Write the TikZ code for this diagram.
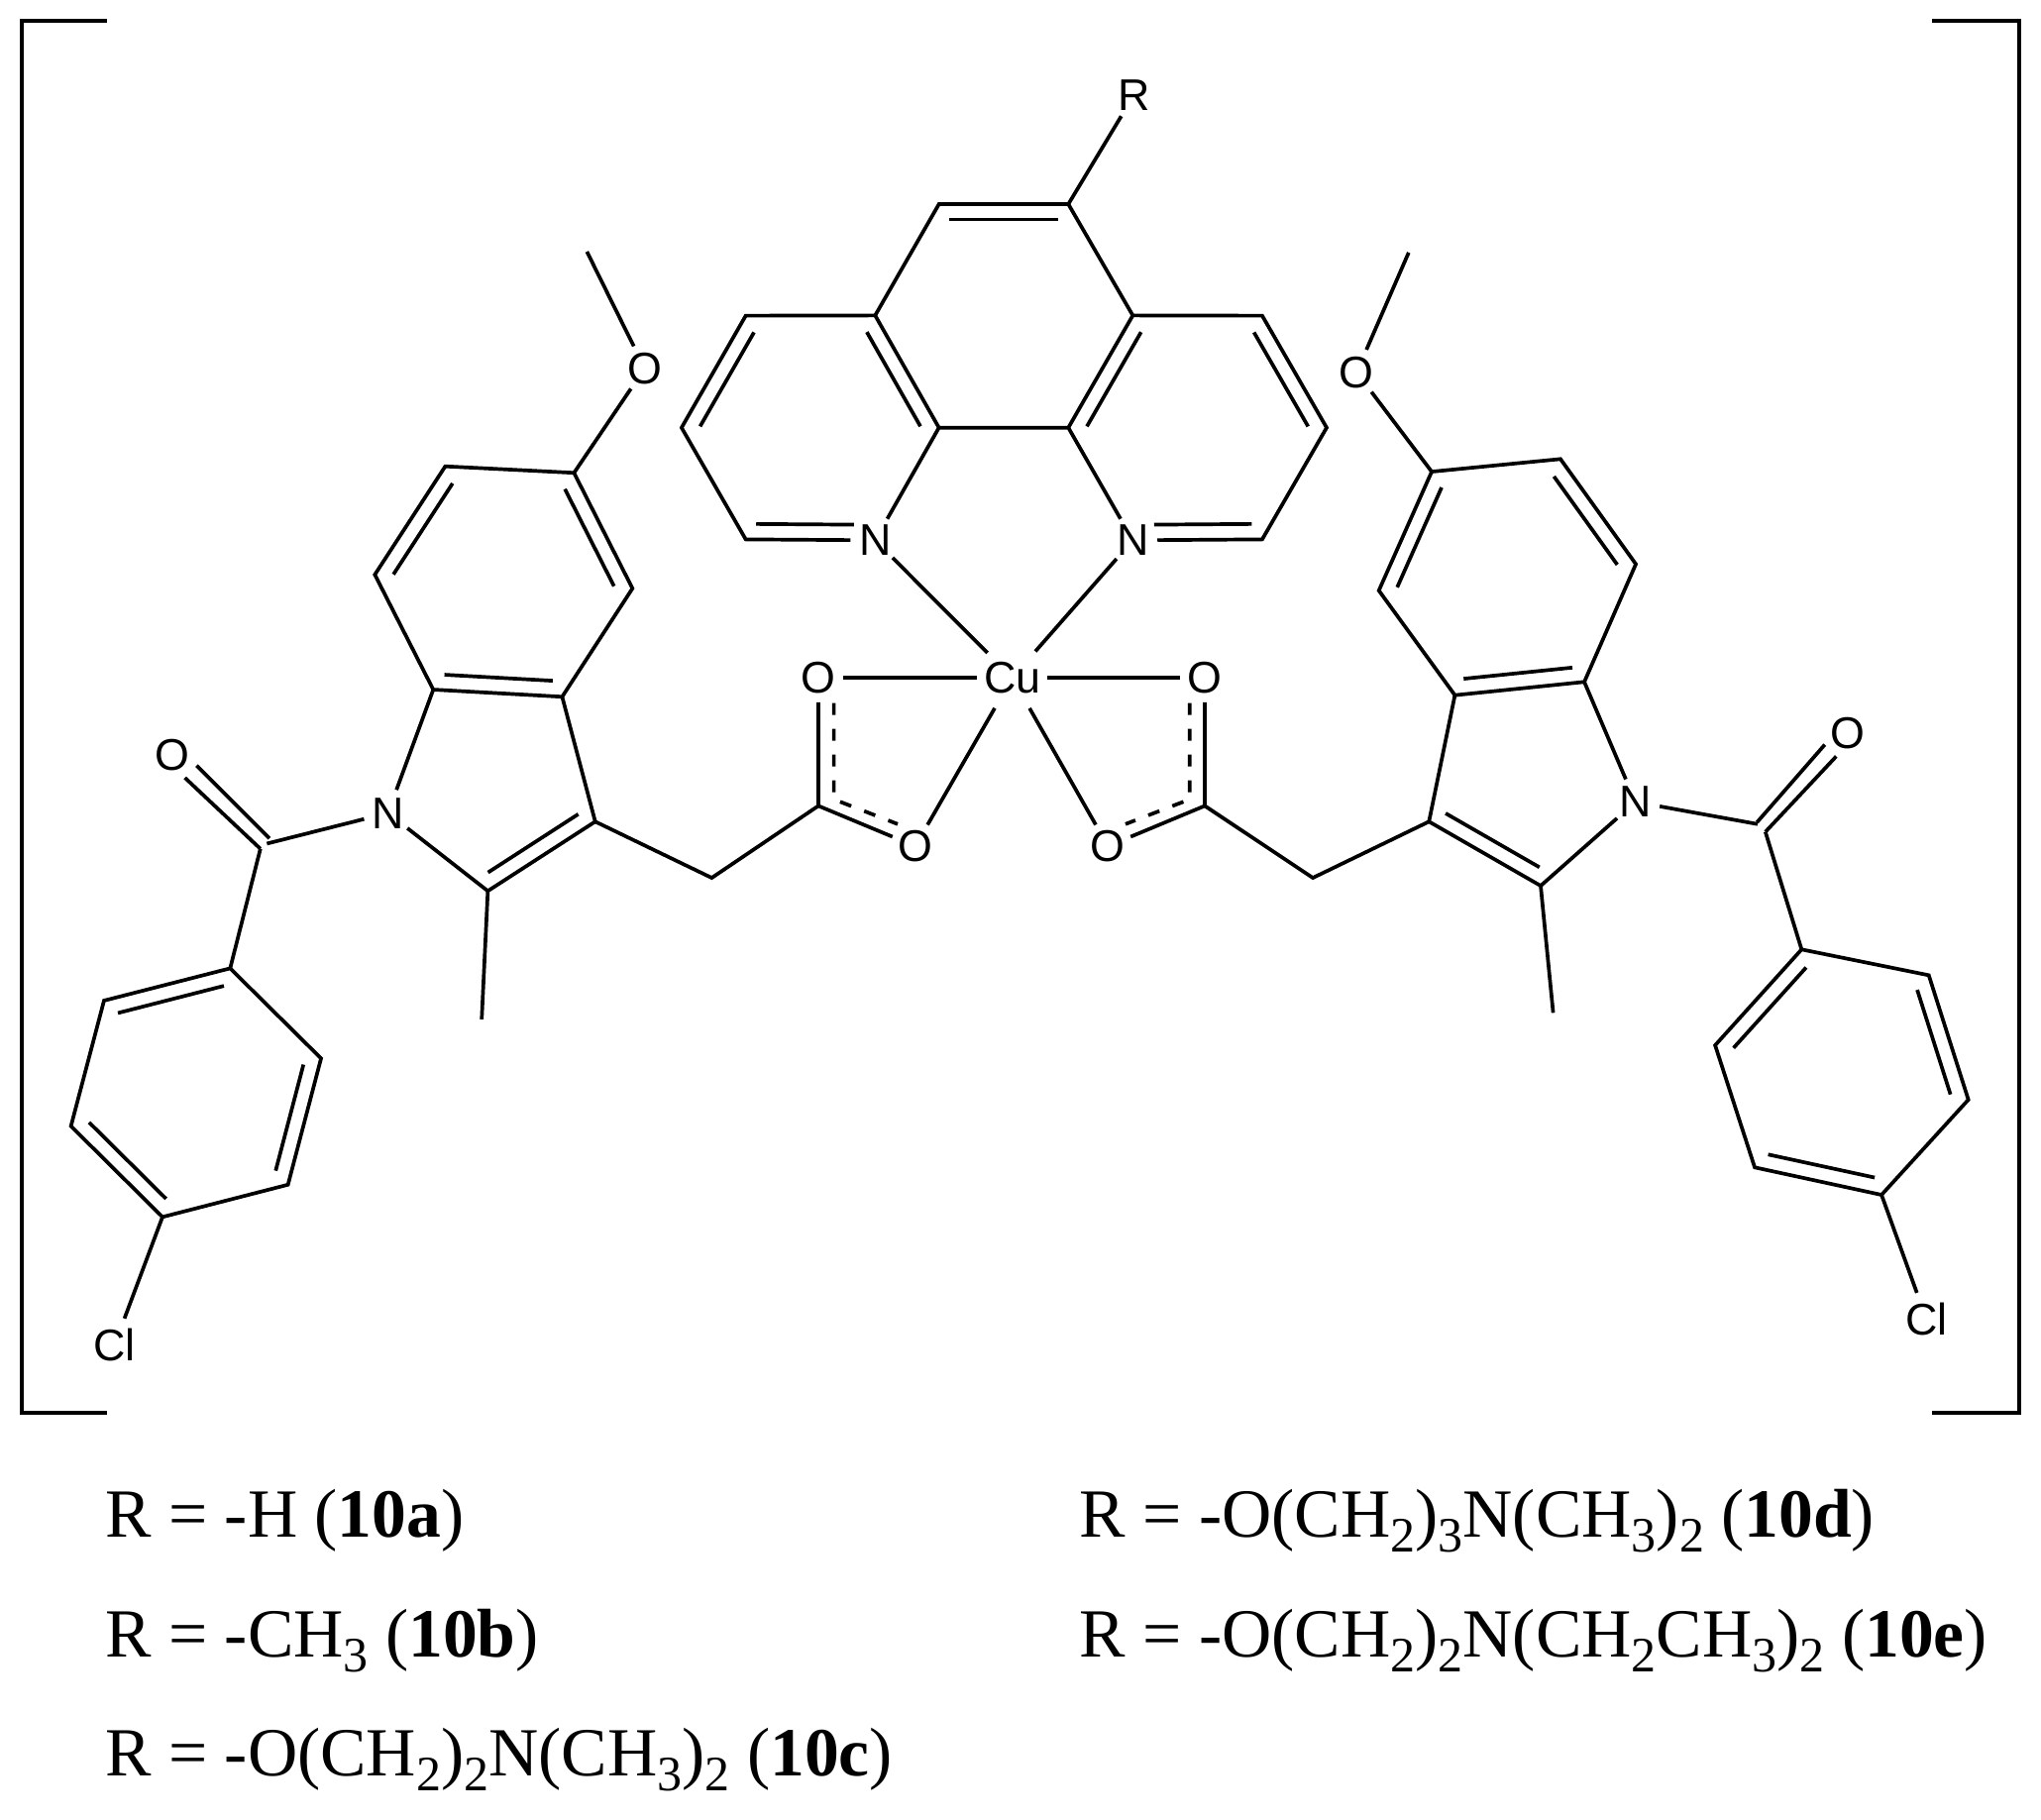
\documentclass[tikz,border=0pt]{standalone}
\usepackage{fontspec}
\usetikzlibrary{calc}
\setmainfont{Liberation Serif}
\newfontfamily\atomfont{Liberation Sans}
\newcommand{\ssb}[1]{\raisebox{-7.5pt}{\fontsize{25}{26}\selectfont #1}}
\newcommand{\dblx}[4]{\draw[bond] ($(#1)!#3!(#2)!7.8pt!90:(#2)$) -- ($(#2)!#4!(#1)!-7.8pt!90:(#1)$);}
\newcommand{\dbl}[2]{\dblx{#1}{#2}{0.08}{0.08}}
\tikzset{
  bond/.style={line width=1.85pt,black,line join=miter},
  dashbond/.style={line width=1.85pt,black,dash pattern=on 6pt off 7pt},
  atom/.style={font=\atomfont\fontsize{22.4}{24}\selectfont,circle,inner sep=0pt,minimum size=24.5pt},
  clatom/.style={atom,minimum size=28pt},
  cuatom/.style={atom,minimum size=35pt},
  legend/.style={font=\fontsize{34.8}{40}\selectfont,anchor=base west,inner sep=0pt}
}
\begin{document}
\begin{tikzpicture}[x=0.657pt,y=-0.657pt]
\useasboundingbox (0,0) rectangle (1567.7,1397.3);
% brackets
\coordinate (bl1) at (82,16); \coordinate (bl2) at (17,16); \coordinate (bl3) at (17,1085); \coordinate (bl4) at (82,1085);
\coordinate (br1) at (1484,16); \coordinate (br2) at (1551,16); \coordinate (br3) at (1551,1085); \coordinate (br4) at (1484,1085);
\draw[bond] (bl1)--(bl2)--(bl3)--(bl4);
\draw[bond] (br1)--(br2)--(br3)--(br4);
% metal and phenanthroline
\node[cuatom] (Cu) at (777.5,520.6) {Cu};
\node[atom] (R) at (871,73) {R};
\node[atom] (Na) at (672.2,415) {N};
\node[atom] (Nb) at (870.1,415) {N};
\foreach \n/\x/\y in {pa/672.2/242.3,pb/572.8/242.5,pc/523.5/328.5,pd/572.8/414.3,pe/721.2/328.5,
  qa/870.1/242.3,qb/969.5/242.5,qc/1019/328.5,qd/969.5/414.3,qe/820.6/328.5,m1/721.2/156.8,m2/820.6/156.8}
  \coordinate (\n) at (\x,\y);
\draw[bond] (pe)--(pa)--(pb)--(pc)--(pd)--(Na);
\draw[bond] (Na)--(pe)--(qe)--(Nb);
\draw[bond] (Nb)--(qd)--(qc)--(qb)--(qa)--(qe);
\draw[bond] (pa)--(m1)--(m2)--(qa);
\draw[bond] (m2)--(R);
\dbl{m2}{m1} \dbl{pb}{pc} \dblx{pd}{Na}{0.08}{0.165} \dbl{pe}{pa}
\dbl{qa}{qe} \dblx{Nb}{qd}{0.165}{0.08} \dbl{qc}{qb}
\draw[bond] (Na)--(Cu); \draw[bond] (Nb)--(Cu);
% carboxylates
\node[atom] (O1) at (628.6,520.6) {O};
\node[atom] (O2) at (703,650) {O};
\node[atom] (O3) at (925.4,520.6) {O};
\node[atom] (O4) at (851,650) {O};
\coordinate (CL) at (628.6,619); \coordinate (CR) at (925.4,619);
\coordinate (dL1) at (640.5,540); \coordinate (dL2) at (640.5,614); \coordinate (dL3) at (689.5,633);
\coordinate (dR1) at (913.8,540); \coordinate (dR2) at (913.8,614); \coordinate (dR3) at (864.5,633);
\draw[bond] (O1)--(Cu); \draw[bond] (O2)--(Cu); \draw[bond] (O3)--(Cu); \draw[bond] (O4)--(Cu);
\draw[bond] (O1)--(CL)--(O2); \draw[bond] (O3)--(CR)--(O4);
\draw[dashbond] (dL1)--(dL2)--(dL3);
\draw[dashbond] (dR1)--(dR2)--(dR3);
% left indole
\coordinate (LCH2) at (546.7,674.3);
\foreach \n/\x/\y in {a1/440.9/363.2,a2/342/358.2,a3/287.9/441.4,a4/332.8/529.7,a5/431.8/535.2,a6/485.8/452,a7/457.2/631.1,a8/374.7/684.4,aMe/370/783,aOMe/450.8/193.3,
  aCO/200/652,aCOn/205/648,b1/176.8/743.8,b2/79.9/768.6,b3/54.5/865,b4/124.8/934.8,b5/221.2/910,b6/246.6/813,
  kL1/207/644,kL2/151/588,kL3/200/652,kL4/142/597.4}
  \coordinate (\n) at (\x,\y);
\node[atom] (Oa) at (495.2,282.9) {O};
\node[atom] (N1) at (298,624.5) {N};
\node[atom] (Ok) at (132,579.7) {O};
\node[clatom] (Cl1) at (88,1033) {Cl};
\draw[bond] (aOMe)--(Oa)--(a1);
\draw[bond] (a1)--(a2)--(a3)--(a4)--(a5)--(a6)--cycle;
\draw[bond] (a5)--(a7)--(a8);
\draw[bond] (a4)--(N1)--(a8)--(aMe);
\draw[bond] (a7)--(LCH2)--(CL);
\draw[bond] (N1)--(aCOn);
\draw[bond] (aCO)--(b1);
\draw[bond] (b1)--(b2)--(b3)--(b4)--(b5)--(b6)--cycle;
\draw[bond] (b4)--(Cl1);
\draw[bond] (kL1)--(kL2); \draw[bond] (kL3)--(kL4);
\dbl{a2}{a3} \dbl{a4}{a5} \dbl{a6}{a1} \dbl{a8}{a7}
\dbl{b1}{b2} \dbl{b3}{b4} \dbl{b5}{b6}
% right indole
\coordinate (RCH2) at (1008.4,674.3);
\foreach \n/\x/\y in {c1/1099.7/362.3,c2/1198.6/352.6,c3/1256.5/433.3,c4/1216.9/523.8,c5/1117.5/534,c6/1059.1/453.6,c7/1097.6/631.1,c8/1183.4/680.4,cMe/1193/778,cOMe/1082/194,
  cCO/1356/639,cCOn/1350/633,d1/1383.8/729.3,d2/1481.5/749.1,d3/1511.9/844.7,d4/1445.2/917.8,d5/1347.8/896.7,d6/1317.4/802.9,
  kR1/1349.5/631.7,kR2/1401.6/572,kR3/1356/639,kR4/1410.4/581}
  \coordinate (\n) at (\x,\y);
\node[atom] (Oc) at (1042,286) {O};
\node[atom] (N2) at (1256.2,616) {N};
\node[atom] (Ol) at (1419.3,563) {O};
\node[clatom] (Cl2) at (1479.7,1013.4) {Cl};
\draw[bond] (cOMe)--(Oc)--(c1);
\draw[bond] (c1)--(c2)--(c3)--(c4)--(c5)--(c6)--cycle;
\draw[bond] (c5)--(c7)--(c8);
\draw[bond] (c4)--(N2)--(c8)--(cMe);
\draw[bond] (c7)--(RCH2)--(CR);
\draw[bond] (N2)--(cCOn);
\draw[bond] (cCO)--(d1);
\draw[bond] (d1)--(d2)--(d3)--(d4)--(d5)--(d6)--cycle;
\draw[bond] (d4)--(Cl2);
\draw[bond] (kR1)--(kR2); \draw[bond] (kR3)--(kR4);
\dbl{c1}{c6} \dbl{c5}{c4} \dbl{c3}{c2} \dbl{c7}{c8}
\dbl{d1}{d6} \dbl{d5}{d4} \dbl{d3}{d2}
% legend
\node[legend] (t1) at (80.7,1181) {R = -H (\textbf{10a})};
\node[legend] (t2) at (80.7,1273) {R = -CH\ssb{3} (\textbf{10b})};
\node[legend] (t3) at (80.7,1364) {R = -O(CH\ssb{2})\ssb{2}N(CH\ssb{3})\ssb{2} (\textbf{10c})};
\node[legend] (t4) at (829,1181) {R = -O(CH\ssb{2})\ssb{3}N(CH\ssb{3})\ssb{2} (\textbf{10d})};
\node[legend] (t5) at (829,1273) {R = -O(CH\ssb{2})\ssb{2}N(CH\ssb{2}CH\ssb{3})\ssb{2} (\textbf{10e})};
\end{tikzpicture}
\end{document}
